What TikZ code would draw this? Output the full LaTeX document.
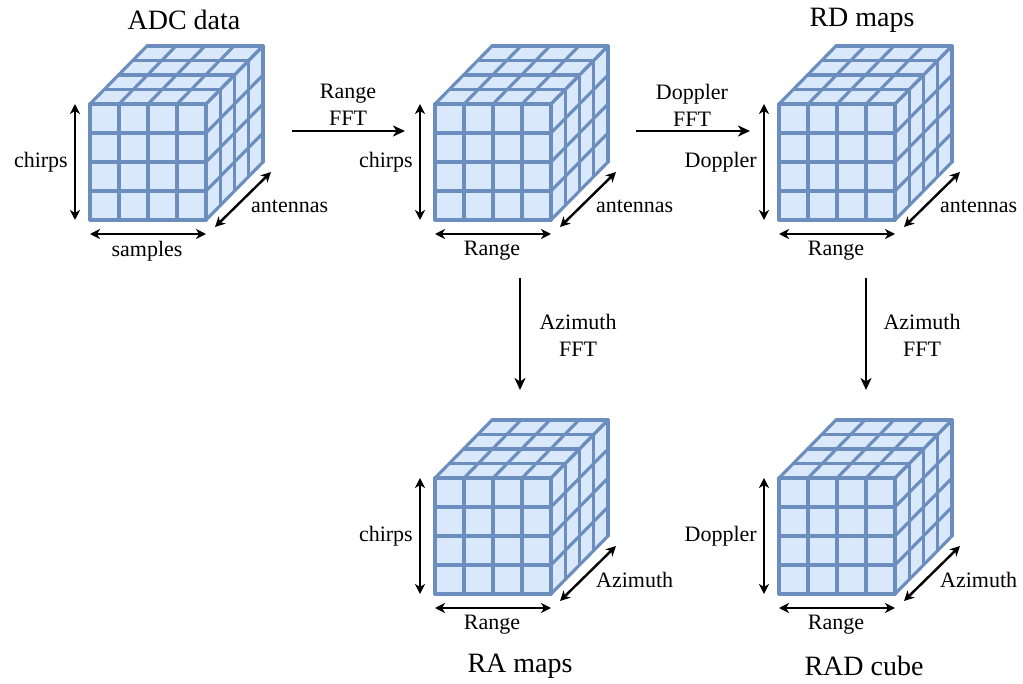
\documentclass[tikz,border=0pt]{standalone}
\usepackage{fontspec}
\setmainfont{Liberation Serif}
\usetikzlibrary{arrows.meta}
\definecolor{cellfill}{HTML}{DAE8FC}
\definecolor{cellline}{HTML}{6C8EBF}
\tikzset{
  gridline/.style={draw=cellline, line width=3.1pt, line cap=round, line join=round},
  dimarrow/.style={black, line width=2.4pt,
    {Stealth[length=10pt,width=10pt,inset=3pt]}-{Stealth[length=10pt,width=10pt,inset=3pt]}},
  flowarrow/.style={black, line width=2.6pt, -{Stealth[length=12pt,width=11pt,inset=3.5pt]}},
  lbl/.style={font=\fontsize{22}{27}\selectfont, inner sep=2pt},
  title/.style={font=\fontsize{28}{32}\selectfont, inner sep=2pt},
  % 4x4x4 grid cube; origin = top-left corner of the front face
  pics/datacube/.style n args={3}{code={
    \fill[cellfill] (0,0) -- (57,-58) -- (173,-58) -- (173,58) -- (116,116) -- (0,116) -- cycle;
    \foreach \i in {0,...,4}{
      \draw[gridline] (29*\i,0) -- (29*\i,116);
      \draw[gridline] (0,29*\i) -- (116,29*\i);
      \draw[gridline] (29*\i,0) -- ++(57,-58);
      \draw[gridline] (14.25*\i,-14.5*\i) -- ++(116,0);
      \draw[gridline] (116+14.25*\i,-14.5*\i) -- ++(0,116);
      \draw[gridline] (116,29*\i) -- ++(57,-58);
    }
    \coordinate (-vt) at (-15,0);
    \coordinate (-vb) at (-15,116);
    \coordinate (-hl) at (0,130);
    \coordinate (-hr) at (116,130);
    \coordinate (-df) at (125,123);
    \coordinate (-db) at (181,68);
    \draw[dimarrow] (-vt) -- (-vb);
    \draw[dimarrow] (-hl) -- (-hr);
    \draw[dimarrow] (-df) -- (-db);
    \node[lbl, anchor=east] (-v) at (-20,58) {#1};
    \node[lbl] (-h) at (57,147) {#2};
    \node[lbl, anchor=west] (-d) at (159,102) {#3};
  }}
}
\begin{document}
\begin{tikzpicture}[x=1pt, y=-1pt]
  \useasboundingbox (0,0) rectangle (1023,684);

  % cubes
  \pic (adc) at (90,104) {datacube={chirps}{samples}{antennas}};
  \pic (rng) at (435,104) {datacube={chirps}{Range}{antennas}};
  \pic (rd)  at (779,104) {datacube={Doppler}{Range}{antennas}};
  \pic (ra)  at (435,478) {datacube={chirps}{Range}{Azimuth}};
  \pic (rad) at (779,478) {datacube={Doppler}{Range}{Azimuth}};

  % titles
  \node[title] (adc-title) at (184,20) {ADC data};
  \node[title] (rd-title)  at (862,20) {RD maps};
  \node[title] (ra-title)  at (520,666) {RA maps};
  \node[title] (rad-title) at (864,666) {RAD cube};

  % processing steps
  \coordinate (rfft-a) at (292,131);
  \coordinate (rfft-b) at (405,131);
  \draw[flowarrow] (rfft-a) -- (rfft-b);
  \node[lbl, align=center] (rfft-l) at (348,105) {Range\\FFT};

  \coordinate (dfft-a) at (636,131);
  \coordinate (dfft-b) at (750,131);
  \draw[flowarrow] (dfft-a) -- (dfft-b);
  \node[lbl, align=center] (dfft-l) at (692,105) {Doppler\\FFT};

  \coordinate (afft1-a) at (520,278);
  \coordinate (afft1-b) at (520,390);
  \draw[flowarrow] (afft1-a) -- (afft1-b);
  \node[lbl, align=center] (afft1-l) at (578,335) {Azimuth\\FFT};

  \coordinate (afft2-a) at (866,278);
  \coordinate (afft2-b) at (866,390);
  \draw[flowarrow] (afft2-a) -- (afft2-b);
  \node[lbl, align=center] (afft2-l) at (922,335) {Azimuth\\FFT};
\end{tikzpicture}
\end{document}
